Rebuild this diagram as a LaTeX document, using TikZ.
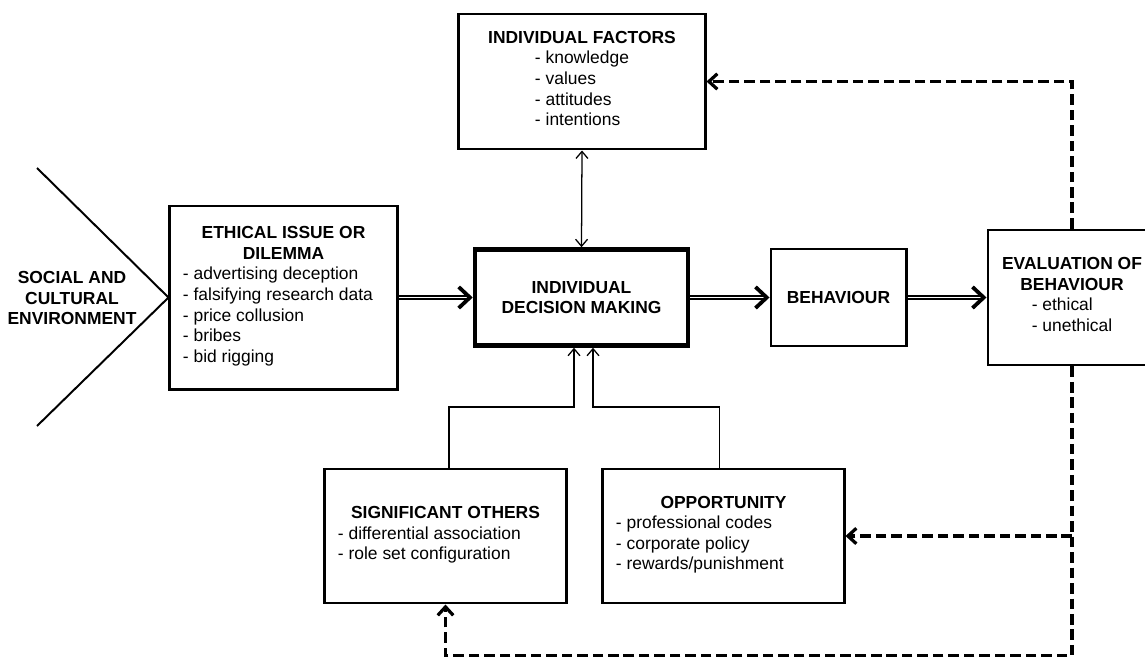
\documentclass[tikz,border=0pt]{standalone}
\usepackage{fontspec}
\setmainfont{Liberation Sans}
\usepackage{tikz}
\usetikzlibrary{calc,positioning,arrows.meta}

\newcommand{\itemlist}[1]{\begin{tabular}[t]{@{}l@{}}#1\end{tabular}}
\newcommand{\leftlist}[2]{\makebox[#1][l]{\itemlist{#2}}}

\begin{document}
\begin{tikzpicture}[x=0.025cm, y=-0.025cm,
  font=\fontsize{12.4}{14.6}\selectfont,
  >={Straight Barb[length=5pt,width=8.5pt]},
  box/.style={draw, line width=2.1pt, align=center, inner sep=0pt},
  mainbox/.style={box, line width=3.2pt},
  dblarrow/.style={double, line width=0.9pt, double distance=1.4pt, -{Straight Barb[length=8pt,width=15pt,line width=2.7pt]}},
  thinarrow/.style={line width=0.9pt},
  feedback/.style={line width=2.3pt, dash pattern=on 7.5pt off 3.5pt, -{Straight Barb[length=6pt,width=11pt,line width=2.3pt]}}]
  \useasboundingbox (0,0) rectangle (1145,657);
  \clip (0,0) rectangle (1145,657);

  % Boxes
  \node[box, minimum width=6.15cm, minimum height=3.375cm] (factors) at (582,81.5)
    {\textbf{INDIVIDUAL FACTORS}\\\itemlist{- knowledge\\- values\\- attitudes\\- intentions}};
  \node[box, minimum width=5.675cm, minimum height=4.575cm] (issue) at (283.5,297.5)
    {\textbf{ETHICAL ISSUE OR}\\\textbf{DILEMMA}\\\leftlist{5.025cm}{- advertising deception\\- falsifying research data\\- price collusion\\- bribes\\- bid rigging}};
  \node[mainbox, minimum width=5.325cm, minimum height=2.4cm] (decision) at (581.5,297.5)
    {\textbf{INDIVIDUAL}\\\textbf{DECISION MAKING}};
  \node[box, minimum width=3.375cm, minimum height=2.425cm] (behaviour) at (838.5,297.5)
    {\textbf{BEHAVIOUR}};
  \node[box, minimum width=4.2cm, minimum height=3.375cm] (evaluation) at (1072,297.5)
    {\textbf{EVALUATION OF}\\\textbf{BEHAVIOUR}\\\itemlist{- ethical\\- unethical}};
  \node[box, minimum width=6.025cm, minimum height=3.35cm] (others) at (445.5,536)
    {\textbf{SIGNIFICANT OTHERS}\\\leftlist{5.375cm}{- differential association\\- role set configuration}};
  \node[box, minimum width=6.025cm, minimum height=3.35cm] (opportunity) at (723.5,536)
    {\textbf{OPPORTUNITY}\\\leftlist{5.375cm}{- professional codes\\- corporate policy\\- rewards/punishment}};

  % Environment
  \node[align=center, font=\fontsize{12.4}{14.6}\selectfont\bfseries] (env) at (72,298)
    {SOCIAL AND\\CULTURAL\\ENVIRONMENT};
  \draw[line width=1.4pt] (37,168) -- (issue.west) -- (37,426);

  % Main flow
  \draw[dblarrow] (issue.east) -- (decision.west);
  \draw[dblarrow] (decision.east) -- (behaviour.west);
  \draw[dblarrow] (behaviour.east) -- (evaluation.west);
  \draw[thinarrow, <->] (factors.south) -- (decision.north);

  % Influences
  \coordinate (so) at (574,407);
  \coordinate (op) at (593,407);
  \draw[thinarrow, ->] ([xshift=2.5pt]others.north) |- (so) -- (so |- decision.south);
  \draw[thinarrow, ->] ([xshift=-3pt]opportunity.north) |- (op) -- (op |- decision.south);

  % Feedback
  \coordinate (base) at (0,655.5);
  \coordinate (branch) at (evaluation.south |- opportunity.east);
  \draw[feedback] (evaluation.north) |- (factors.east);
  \draw[feedback] (evaluation.south) -- (evaluation.south |- base) -| (others.south);
  \draw[feedback] (branch) -- (opportunity.east);
\end{tikzpicture}
\end{document}
